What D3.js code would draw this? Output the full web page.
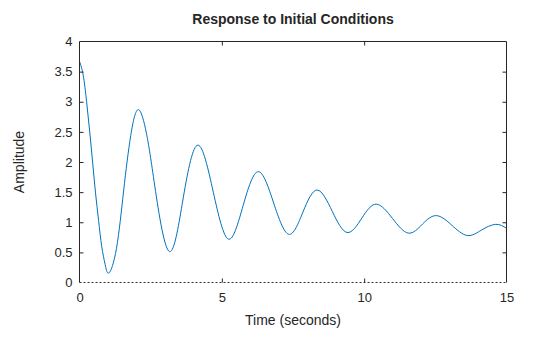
<!DOCTYPE html>
<html>
<head>
<meta charset="utf-8">
<script src="https://cdn.jsdelivr.net/npm/d3@7"></script>
<style>
  html, body { margin: 0; padding: 0; background: #fff; }
  svg { display: block; font-family: "Liberation Sans", Arial, sans-serif; }
</style>
</head>
<body>
<svg id="chart" width="560" height="337"></svg>
<script>
// Free response samples: time (s) and amplitude
const time = [0, 0.13, 0.25, 0.36, 0.46, 0.56, 0.67, 0.78, 0.90, 1.04,
  1.30, 1.55, 1.80, 2.07, 2.35, 2.62, 3.14, 3.65, 4.16, 4.70, 5.23, 5.75, 6.28,
  6.82, 7.35, 7.85, 8.35, 8.88, 9.40, 9.92, 10.43, 11.0, 11.55,
  12.05, 12.54, 13.08, 13.62, 14.12, 14.62, 15];
const amplitude = [3.67, 3.44, 3.0, 2.5, 2.0, 1.5, 1.03, 0.6, 0.30, 0.16,
  0.57, 1.52, 2.44, 2.87, 2.48, 1.68, 0.52, 1.42, 2.28, 1.50, 0.72, 1.28, 1.84,
  1.32, 0.80, 1.17, 1.535, 1.18, 0.83, 1.07, 1.30, 1.06, 0.82,
  0.97, 1.11, 0.95, 0.78, 0.87, 0.965, 0.90];
const xTicks = [0, 5, 10, 15];
const yTicks = [0, 0.5, 1, 1.5, 2, 2.5, 3, 3.5, 4];

const svg = d3.select("#chart");
const plotLeft = 79.5, plotRight = 506.5, plotTop = 41.5, plotBottom = 282.5;

const x = d3.scaleLinear().domain([0, 15]).range([plotLeft, plotRight]);
const y = d3.scaleLinear().domain([0, 4]).range([plotBottom, plotTop]);

const textColor = "#262626";
const axisColor = "#262626";

// zero reference line
svg.append("line")
  .attr("x1", x(0)).attr("x2", x(15))
  .attr("y1", y(0)).attr("y2", y(0))
  .attr("stroke", "#333").attr("stroke-width", 1)
  .attr("stroke-dasharray", "2,2");

// response curve
const pts = time.map((t, i) => [t, amplitude[i]]);
const line = d3.line()
  .x(d => x(d[0])).y(d => y(d[1]))
  .curve(d3.curveNatural);
svg.append("path")
  .datum(pts)
  .attr("d", line)
  .attr("fill", "none")
  .attr("stroke", "#0072BD")
  .attr("stroke-width", 1);

// axes: ticks point inward on all four sides
function styleAxis(g) {
  g.select(".domain").remove();
  g.selectAll(".tick line").attr("stroke", axisColor);
  g.selectAll(".tick text")
    .attr("fill", textColor)
    .style("font-size", "13px")
    .style("font-family", "'Liberation Sans', Arial, sans-serif");
}

svg.append("g")
  .attr("transform", `translate(0,${plotBottom})`)
  .call(d3.axisBottom(x).tickValues(xTicks).tickFormat(d3.format("d"))
    .tickSizeInner(-4).tickSizeOuter(0).tickPadding(10))
  .call(styleAxis)
  .call(g => g.selectAll(".tick").filter(d => d === 0 || d === 15).select("line").remove());

svg.append("g")
  .attr("transform", `translate(0,${plotTop})`)
  .call(d3.axisTop(x).tickValues(xTicks).tickFormat("")
    .tickSizeInner(-4).tickSizeOuter(0))
  .call(styleAxis)
  .call(g => g.selectAll(".tick").filter(d => d === 0 || d === 15).select("line").remove());

svg.append("g")
  .attr("transform", `translate(${plotLeft},0)`)
  .call(d3.axisLeft(y).tickValues(yTicks).tickFormat(d3.format("~g"))
    .tickSizeInner(-4).tickSizeOuter(0).tickPadding(7))
  .call(styleAxis)
  .call(g => g.selectAll(".tick").filter(d => d === 0 || d === 4).select("line").remove());

svg.append("g")
  .attr("transform", `translate(${plotRight},0)`)
  .call(d3.axisRight(y).tickValues(yTicks).tickFormat("")
    .tickSizeInner(-4).tickSizeOuter(0))
  .call(styleAxis)
  .call(g => g.selectAll(".tick").filter(d => d === 0 || d === 4).select("line").remove());

// box edges (bottom edge is the dashed zero line)
svg.append("path")
  .attr("d", `M${plotLeft},${plotBottom}V${plotTop}H${plotRight}V${plotBottom}`)
  .attr("fill", "none")
  .attr("stroke", axisColor)
  .attr("stroke-width", 1);

// labels
svg.append("text")
  .attr("x", (plotLeft + plotRight) / 2).attr("y", 24)
  .attr("text-anchor", "middle")
  .attr("fill", textColor)
  .style("font-size", "14px").style("font-weight", "bold")
  .text("Response to Initial Conditions");

svg.append("text")
  .attr("x", (plotLeft + plotRight) / 2).attr("y", 325)
  .attr("text-anchor", "middle")
  .attr("fill", textColor)
  .style("font-size", "14px")
  .text("Time (seconds)");

svg.append("text")
  .attr("transform", `translate(24,${(plotTop + plotBottom) / 2}) rotate(-90)`)
  .attr("text-anchor", "middle")
  .attr("fill", textColor)
  .style("font-size", "14px")
  .text("Amplitude");
</script>
</body>
</html>
